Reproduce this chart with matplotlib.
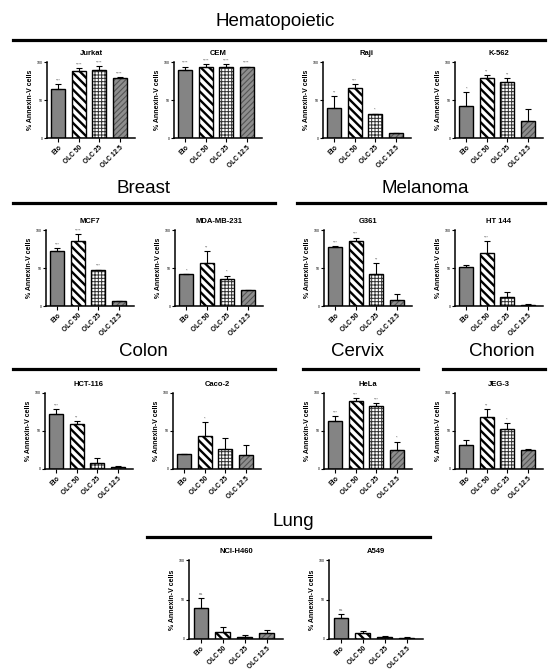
import numpy as np
import matplotlib
matplotlib.use("Agg")
import matplotlib.pyplot as plt

plt.rcParams['font.family'] = ['Liberation Sans', 'DejaVu Sans']
plt.rcParams['hatch.linewidth'] = 0.9

# Data (% Annexin-V positive cells)
treatments = ["Eto", "OLC 50", "OLC 25", "OLC 12.5"]

jurkat = [64, 88, 90, 79]
jurkat_err = [7, 4, 5, 1]
jurkat_sig = ["***", "****", "****", "****"]

cem = [89, 94, 94, 93]
cem_err = [5, 3, 3, 1]
cem_sig = ["****", "****", "****", "****"]

raji = [40, 66, 31, 6]
raji_err = [15, 5, 1, 1]
raji_sig = ["**", "***", "*", ""]

k562 = [42, 79, 74, 23]
k562_err = [18, 4, 5, 15]
k562_sig = ["*", "**", "**", ""]

mcf7 = [73, 86, 47, 6]
mcf7_err = [3, 9, 1, 1]
mcf7_sig = ["***", "****", "***", ""]

mda = [42, 56, 35, 21]
mda_err = [0, 16, 5, 0]
mda_sig = ["*", "**", "*", ""]

g361 = [77, 86, 42, 8]
g361_err = [2, 4, 14, 8]
g361_sig = ["***", "***", "**", ""]

ht144 = [51, 70, 12, 1]
ht144_err = [3, 15, 6, 2]
ht144_sig = ["", "***", "", ""]

hct116 = [72, 59, 8, 3]
hct116_err = [7, 4, 6, 1]
hct116_sig = ["***", "**", "", ""]

caco2 = [20, 44, 26, 19]
caco2_err = [0, 18, 15, 13]
caco2_sig = ["", "*", "", ""]

hela = [63, 90, 83, 25]
hela_err = [7, 3, 4, 11]
hela_sig = ["***", "***", "***", "*"]

jeg3 = [32, 68, 53, 25]
jeg3_err = [6, 11, 7, 1]
jeg3_sig = ["", "**", "*", ""]

nci = [39, 9, 3, 8]
nci_err = [13, 6, 2, 3]
nci_sig = ["ns", "", "", ""]

a549 = [27, 7, 3, 1]
a549_err = [5, 3, 1, 1]
a549_sig = ["ns", "", "", ""]

W, H = 550, 669
fig = plt.figure(figsize=(5.5, 6.69), dpi=100)

def px_axes(left, top, w, h):
    return fig.add_axes([left / W, 1 - (top + h) / H, w / W, h / H])

# bar looks: (face colour, hatch, hatch colour, hatch width)
looks = [("#848484", None, "#848484", 0.8),
         ("white", "\\\\\\\\", "black", 1.7),
         ("white", "+++++", "#333333", 0.7),
         ("#8e8e8e", "//////", "#555555", 0.8)]

def panel(left, top, name, vals, errs, sigs, w=88, h=76):
    ax = px_axes(left, top, w, h)
    x = np.arange(len(vals))
    for i in range(len(vals)):
        fc, hatch, hc, hlw = looks[i]
        with plt.rc_context({'hatch.linewidth': hlw}):
            ax.bar(x[i], vals[i], width=0.68, color=fc, hatch=hatch,
                   edgecolor=hc, linewidth=0, zorder=2)
        ax.bar(x[i], vals[i], width=0.68, facecolor="none",
               edgecolor="black", linewidth=1.0, zorder=3)
    ax.errorbar(x, vals, yerr=[np.zeros(len(vals)), errs], fmt="none",
                ecolor="black", elinewidth=0.8, capsize=2.5, capthick=0.8,
                zorder=4)
    for i, s in enumerate(sigs):
        if s:
            ax.text(x[i], vals[i] + errs[i] + 2, s, ha="center", va="bottom",
                    fontsize=3, color="#555555")
    ax.set_xlim(-0.55, 3.75)
    ax.set_ylim(0, 100)
    ax.set_yticks([0, 50, 100])
    ax.set_xticks(x)
    ax.set_xticklabels(treatments, rotation=45, ha="right",
                       rotation_mode="anchor", fontsize=4.8, fontweight="bold")
    ax.tick_params(axis="y", labelsize=2.5, length=2, width=0.8, pad=1)
    ax.tick_params(axis="x", length=3, width=0.8, pad=1.5)
    for s in ["top", "right"]:
        ax.spines[s].set_visible(False)
    for s in ["left", "bottom"]:
        ax.spines[s].set_linewidth(1.1)
    ax.set_ylabel("% Annexin-V cells", fontsize=5, fontweight="bold",
                  labelpad=2)
    ax.set_title(name, fontsize=5.5, fontweight="bold", pad=5)
    return ax

def section(title, xc, y, x0, x1, ly):
    fig.text(xc / W, 1 - y / H, title, ha="center", va="center", fontsize=13.5)
    fig.add_artist(plt.Line2D([x0 / W, x1 / W], [1 - ly / H, 1 - ly / H],
                              color="black", linewidth=2.3))

# Hematopoietic
section("Hematopoietic", 275, 22, 13, 545, 40)
panel(47, 62, "Jurkat", jurkat, jurkat_err, jurkat_sig)
panel(174, 62, "CEM", cem, cem_err, cem_sig)
panel(323, 62, "Raji", raji, raji_err, raji_sig)
panel(455, 62, "K-562", k562, k562_err, k562_sig)

# Breast / Melanoma
section("Breast", 143, 189, 13, 275, 203)
section("Melanoma", 425, 189, 297, 545, 203)
panel(46, 230, "MCF7", mcf7, mcf7_err, mcf7_sig)
panel(175, 230, "MDA-MB-231", mda, mda_err, mda_sig)
panel(324, 230, "G361", g361, g361_err, g361_sig)
panel(455, 230, "HT 144", ht144, ht144_err, ht144_sig)

# Colon / Cervix / Chorion
section("Colon", 143, 352, 13, 275, 369)
section("Cervix", 358, 352, 303, 418, 369)
section("Chorion", 502, 352, 443, 545, 369)
panel(45, 393, "HCT-116", hct116, hct116_err, hct116_sig)
panel(173, 393, "Caco-2", caco2, caco2_err, caco2_sig)
panel(324, 393, "HeLa", hela, hela_err, hela_sig)
panel(455, 393, "JEG-3", jeg3, jeg3_err, jeg3_sig)

# Lung
section("Lung", 293, 522, 147, 430, 537)
panel(189, 560, "NCI-H460", nci, nci_err, nci_sig, w=94, h=79)
panel(329, 560, "A549", a549, a549_err, a549_sig, w=94, h=79)

fig.savefig("out.png", dpi=100, facecolor="white")
